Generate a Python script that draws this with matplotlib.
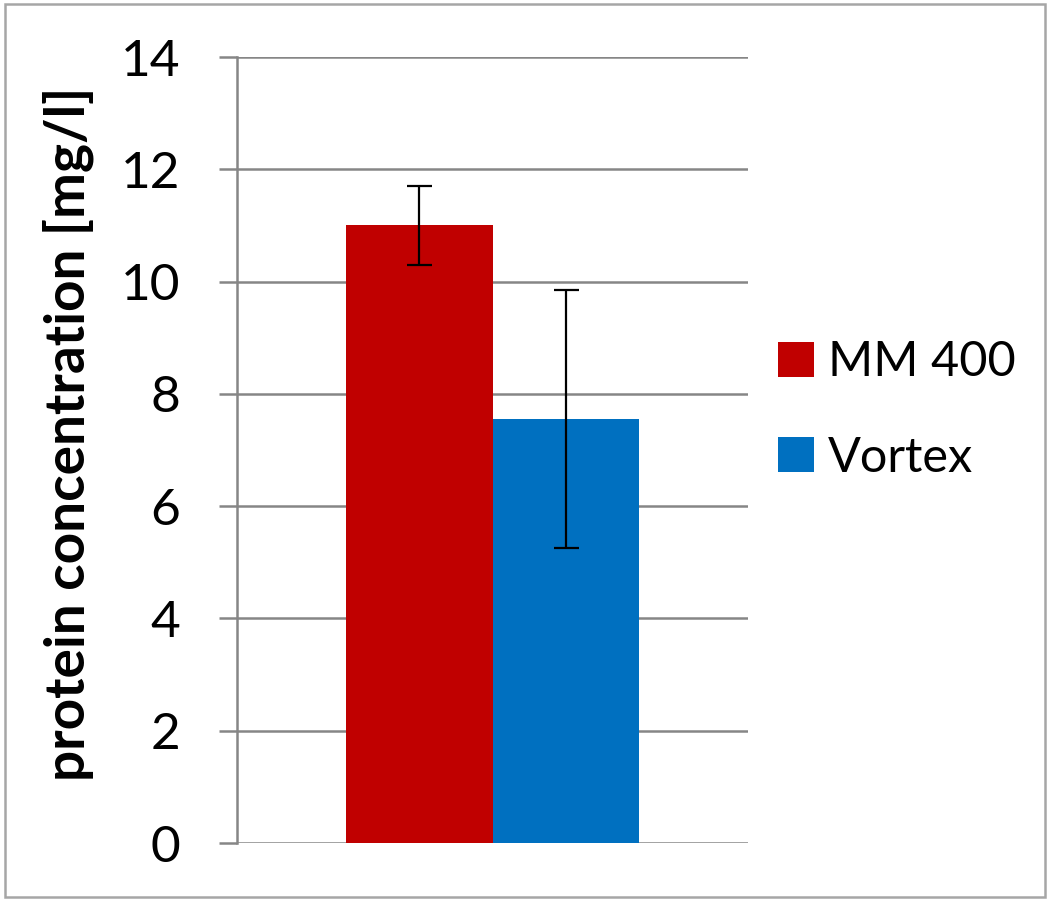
import matplotlib.pyplot as plt
from matplotlib.patches import Rectangle

# data
series = ['MM 400', 'Vortex']
values = [11.0, 7.55]
errors = [0.7, 2.3]
colors = ['#c00000', '#0070c0']

plt.rcParams['font.family'] = ['Lato', 'DejaVu Sans']

fig = plt.figure(figsize=(10.52, 9), dpi=100)
ax = fig.add_axes([237 / 1052, 1 - 843 / 900, (748 - 237) / 1052, (843 - 57) / 900])

# border around the whole chart
fig.patches.append(Rectangle((5 / 1052, 3 / 900), 1040 / 1052, 893 / 900,
                             transform=fig.transFigure, fill=False,
                             edgecolor='#a6a6a6', linewidth=1.8))

width = 0.286
offsets = [-width / 2, width / 2]
for name, v, e, c, off in zip(series, values, errors, colors, offsets):
    ax.bar(off, v, width=width, color=c, label=name, zorder=2)
    ax.errorbar(off, v, yerr=e, color='black', capsize=9, capthick=1.6,
                elinewidth=1.6, zorder=3)

ax.set_xlim(-0.5, 0.5)
ax.set_ylim(0, 14)
ax.set_yticks(range(0, 15, 2))
ax.set_xticks([])
ax.yaxis.grid(True, color='#868686', linewidth=1.8, zorder=0)
ax.set_axisbelow(True)

for s in ['top', 'right']:
    ax.spines[s].set_visible(False)
ax.spines['left'].set_color('#868686')
ax.spines['left'].set_linewidth(1.8)
ax.spines['bottom'].set_visible(False)
ax.tick_params(axis='y', length=13, width=1.8, color='#868686', labelsize=37, pad=28)

ax.set_ylabel('protein concentration [mg/l]', fontsize=39.5, fontweight='bold')
ax.yaxis.set_label_coords(-0.28, 0.52)

fig.legend(loc='center left', bbox_to_anchor=(778 / 1052, 1 - 410 / 900), frameon=False,
           fontsize=35, handlelength=0.75, handleheight=0.75, handletextpad=0.28,
           labelspacing=1.05, borderaxespad=0, borderpad=0)

fig.savefig('out.png', dpi=100)
